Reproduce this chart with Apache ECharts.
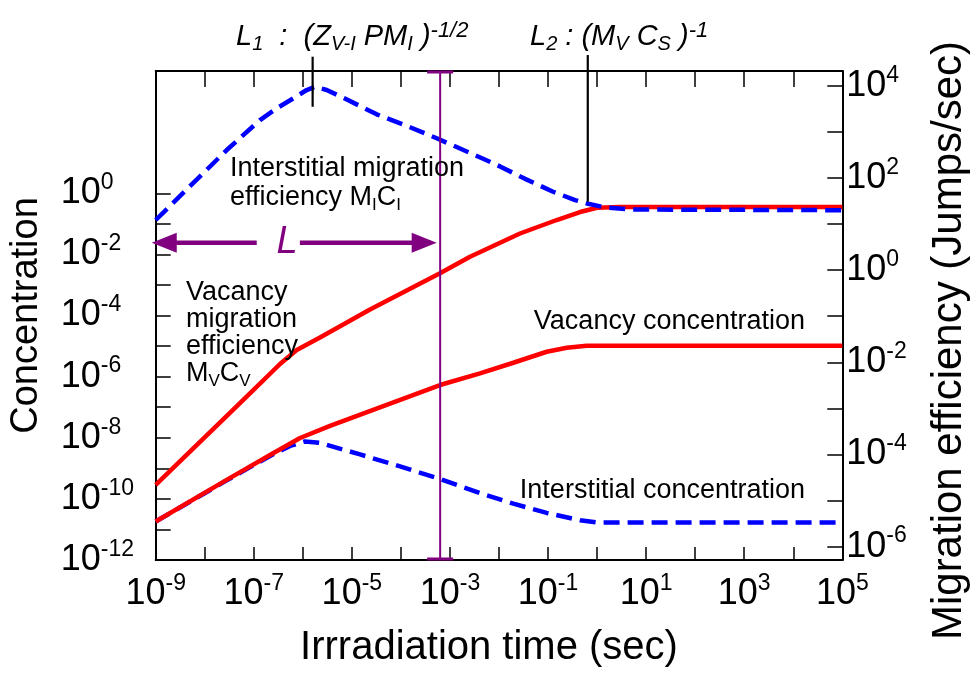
<!DOCTYPE html>
<html><head><meta charset="utf-8">
<script src="https://cdn.jsdelivr.net/npm/echarts@6/dist/echarts.min.js"></script>
<style>html,body{margin:0;padding:0;background:#fff}#c{width:971px;height:680px}</style>
</head><body><div id="c"></div>
<script>
// All values are log10 of the physical quantity.
// Time axis: log10(t / sec)
const xTickExp = [-9,-8,-7,-6,-5,-4,-3,-2,-1,0,1,2,3,4,5];
const xLabelExp = [-9,-7,-5,-3,-1,1,3,5];
// Left axis: concentration
const leftTickExp = [-11,-10,-9,-8,-7,-6,-5,-4,-3,-2,-1,0];
const leftLabelExp = [-12,-10,-8,-6,-4,-2,0];
// Right axis: migration efficiency (Jumps/sec)
const rightTickExp = [-6,-5,-4,-3,-2,-1,0,1,2,3,4];
const rightLabelExp = [-6,-4,-2,0,2,4];

// Interstitial migration efficiency M_I C_I (right axis)
const tInterMig = [-9.0,-8.3,-7.552,-6.873,-6.533,-6.194,-5.921,-5.752,-5.513,-5.175,-4.493,-3.814,-3.27,-2.5,-1.979,-1.469,-0.898,-0.449,-0.184,0.163,0.673,5];
const vInterMig = [1.087,1.82,2.605,3.256,3.51,3.727,3.907,3.978,3.907,3.74,3.38,3.10,2.86,2.50,2.25,1.98,1.70,1.52,1.44,1.36,1.315,1.30];
// Vacancy migration efficiency M_V C_V (right axis)
const tVacMig = [-9,-7.214,-6.465,-6.125,-5.65,-4.63,-3.203,-2.591,-1.572,-0.823,-0.348,0.0,0.46,5];
const vVacMig = [-4.662,-2.818,-2.037,-1.733,-1.462,-0.855,-0.069,0.291,0.794,1.087,1.26,1.354,1.37,1.37];
// Vacancy concentration (left axis)
const tVacConc = [-9,-7.552,-6.669,-6.057,-5.446,-3.203,-2.387,-1.708,-1.027,-0.619,-0.211,0.468,5];
const vVacConc = [-10.74,-9.379,-8.562,-8.007,-7.614,-6.275,-5.892,-5.546,-5.186,-5.056,-4.99,-4.99,-4.99];
// Interstitial concentration (left axis)
const tInterConc = [-9,-7.552,-6.669,-6.26,-5.955,-5.65,-4.833,-4.018,-3.203,-2.387,-1.708,-1.027,-0.348,-0.007,5];
const vInterConc = [-10.74,-9.395,-8.595,-8.268,-8.121,-8.17,-8.546,-8.938,-9.346,-9.814,-10.157,-10.46,-10.70,-10.77,-10.77];

// Annotation positions (log10 t)
const L1Time = -5.8, L2Time = -0.19, LTime = -3.2;

const FF = '"Liberation Sans", Arial, Helvetica, sans-serif';
const pair = (t, v) => t.map((x, i) => [x, v[i]]);
const fmt = v => '{b|10}{s|' + Math.round(v) + '}';
const tickRich = {
  b: {fontSize: 36, lineHeight: 44, fontFamily: FF, color: '#000'},
  s: {fontSize: 23, lineHeight: 16, verticalAlign: 'top', fontFamily: FF, color: '#000'}
};
const axLine = {show: true, onZero: false, lineStyle: {color: '#000', width: 2}};
const tick = (vals, len) => ({show: true, inside: true, length: len, customValues: vals, lineStyle: {color: '#000', width: 1.5}});

const chart = echarts.init(document.getElementById('c'), null, {renderer: 'canvas'});
const option = {
  animation: false,
  backgroundColor: '#fff',
  grid: {left: 155.7, right: 128.7, top: 71, bottom: 120, outerBoundsMode: 'none'},
  xAxis: [
    {type: 'value', min: -9, max: 5, interval: 1, position: 'bottom',
     axisLine: axLine, axisTick: tick(xTickExp, 13), splitLine: {show: false},
     axisLabel: {customValues: xLabelExp, formatter: fmt, rich: tickRich, margin: 12},
     name: 'Irrradiation time (sec)', nameLocation: 'middle', nameGap: 68,
     nameTextStyle: {fontSize: 40, fontFamily: FF, color: '#000', padding: [0, 20, 0, 0]}},
    {type: 'value', min: -9, max: 5, interval: 1, position: 'top',
     axisLine: axLine, axisTick: tick(xTickExp, 16), splitLine: {show: false},
     axisLabel: {show: false}}
  ],
  yAxis: [
    {type: 'value', min: -12, max: 4, interval: 1, position: 'left',
     axisLine: axLine, axisTick: tick(leftTickExp, 15), splitLine: {show: false},
     axisLabel: {customValues: leftLabelExp, formatter: fmt, rich: tickRich, align: 'left', margin: 95},
     name: 'Concentration', nameLocation: 'middle', nameGap: 110, nameRotate: 90,
     nameTextStyle: {fontSize: 38, fontFamily: FF, color: '#000'}},
    {type: 'value', min: -6.29, max: 4.32, position: 'right',
     axisLine: axLine, axisTick: tick(rightTickExp, 15), splitLine: {show: false},
     axisLabel: {customValues: rightLabelExp, formatter: fmt, rich: tickRich, align: 'left', margin: 4},
     name: 'Migration efficiency (Jumps/sec)', nameLocation: 'middle', nameGap: 86, nameRotate: 90,
     nameTextStyle: {fontSize: 42, fontFamily: FF, color: '#000', padding: [0, 50, 0, 0]}}
  ],
  series: [
    {name: 'Interstitial concentration', type: 'line', xAxisIndex: 0, yAxisIndex: 0, showSymbol: false, symbol: 'none',
     data: pair(tInterConc, vInterConc), lineStyle: {color: '#0000ff', width: 4.5, type: [16, 8]}, z: 2},
    {name: 'Vacancy concentration', type: 'line', xAxisIndex: 0, yAxisIndex: 0, showSymbol: false, symbol: 'none',
     data: pair(tVacConc, vVacConc), lineStyle: {color: '#ff0000', width: 4.5}, z: 3},
    {name: 'Vacancy migration efficiency', type: 'line', xAxisIndex: 0, yAxisIndex: 1, showSymbol: false, symbol: 'none',
     data: pair(tVacMig, vVacMig), lineStyle: {color: '#ff0000', width: 4.5}, z: 3},
    {name: 'Interstitial migration efficiency', type: 'line', xAxisIndex: 0, yAxisIndex: 1, showSymbol: false, symbol: 'none',
     data: pair(tInterMig, vInterMig), lineStyle: {color: '#0000ff', width: 4.5, type: [16, 8]}, z: 4},
    // L1 / L2 markers
    {type: 'custom', xAxisIndex: 0, yAxisIndex: 1, clip: false, silent: true, z: 6,
     data: [[L1Time, 4.63, 3.544], [L2Time, 4.666, 1.484]],
     renderItem: (p, api) => {
       const a = api.coord([api.value(0), api.value(1)]);
       const b = api.coord([api.value(0), api.value(2)]);
       return {type: 'line', shape: {x1: a[0], y1: a[1], x2: b[0], y2: b[1]}, style: {stroke: '#000', lineWidth: 2.2}};
     }},
    // Purple L boundary (I-beam)
    {type: 'custom', xAxisIndex: 0, yAxisIndex: 0, clip: false, silent: true, z: 6,
     data: [[LTime, -12, 4]],
     renderItem: (p, api) => {
       const top = api.coord([api.value(0), api.value(2)]);
       const bot = api.coord([api.value(0), api.value(1)]);
       const hw = 13, c = '#800080';
       return {type: 'group', children: [
         {type: 'line', shape: {x1: top[0], y1: top[1], x2: bot[0], y2: bot[1]}, style: {stroke: c, lineWidth: 2}},
         {type: 'line', shape: {x1: top[0] - hw, y1: top[1] + 1, x2: top[0] + hw, y2: top[1] + 1}, style: {stroke: c, lineWidth: 3}},
         {type: 'line', shape: {x1: bot[0] - hw, y1: bot[1] - 1, x2: bot[0] + hw, y2: bot[1] - 1}, style: {stroke: c, lineWidth: 3}}
       ]};
     }},
    // L double arrow
    {type: 'custom', xAxisIndex: 0, yAxisIndex: 0, clip: false, silent: true, z: 6,
     data: [[-9.08, -3.27, -1.62, -6.94, -6.06, -6.32]],
     renderItem: (p, api) => {
       const c = '#800080';
       const y = api.value(2);
       const L = api.coord([api.value(0), y]), R = api.coord([api.value(1), y]);
       const g1 = api.coord([api.value(3), y]), g2 = api.coord([api.value(4), y]);
       const lt = api.coord([api.value(5), y]);
       const hl = 25, hh = 10;
       return {type: 'group', children: [
         {type: 'line', shape: {x1: L[0] + hl - 2, y1: L[1], x2: g1[0], y2: g1[1]}, style: {stroke: c, lineWidth: 4.5}},
         {type: 'line', shape: {x1: g2[0], y1: g2[1], x2: R[0] - hl + 2, y2: R[1]}, style: {stroke: c, lineWidth: 4.5}},
         {type: 'polygon', shape: {points: [[L[0], L[1]], [L[0] + hl, L[1] - hh], [L[0] + hl, L[1] + hh]]}, style: {fill: c}},
         {type: 'polygon', shape: {points: [[R[0], R[1]], [R[0] - hl, R[1] - hh], [R[0] - hl, R[1] + hh]]}, style: {fill: c}},
         {type: 'text', x: lt[0], y: lt[1], style: {text: 'L', fill: c, fontSize: 38, fontStyle: 'italic', fontFamily: FF, align: 'center', verticalAlign: 'middle'}}
       ]};
     }}
  ],
  graphic: (function () {
    const n = {fontSize: 27, fontFamily: FF, color: '#000', lineHeight: 32};
    const sb = {fontSize: 17, fontFamily: FF, color: '#000', lineHeight: 19, verticalAlign: 'bottom'};
    const it = {fontSize: 29, fontFamily: FF, fontStyle: 'italic', color: '#000', lineHeight: 34};
    const isb = {fontSize: 20, fontFamily: FF, fontStyle: 'italic', color: '#000', lineHeight: 20, verticalAlign: 'bottom'};
    const isp = {fontSize: 22, fontFamily: FF, fontStyle: 'italic', color: '#000', lineHeight: 22, verticalAlign: 'top'};
    const txt = (x, y, text, align) => ({type: 'text', x: x, y: y, silent: true, z: 10,
      style: {text: text, rich: {n: n, sb: sb, it: it, isb: isb, isp: isp}, fontSize: 27, fontFamily: FF, fill: '#000',
              align: align || 'left', verticalAlign: 'middle'}});
    return [
      txt(230, 169, '{n|Interstitial migration}'),
      txt(230, 198, '{n|efficiency M}{sb|I}{n|C}{sb|I}'),
      txt(186, 293, '{n|Vacancy}'),
      txt(186, 320, '{n|migration}'),
      txt(186, 347, '{n|efficiency}'),
      txt(186, 374, '{n|M}{sb|V}{n|C}{sb|V}'),
      txt(805, 322, '{n|Vacancy concentration}', 'right'),
      txt(805, 491, '{n|Interstitial concentration}', 'right'),
      txt(236, 37, '{it|L}{isb|1}{it|  :  (Z}{isb|V-I}{it| PM}{isb|I}{it| )}{isp|-1/2}'),
      txt(530, 37, '{it|L}{isb|2}{it| : (M}{isb|V}{it| C}{isb|S}{it| )}{isp|-1}')
    ];
  })()
};
chart.setOption(option);
</script>
</body></html>
